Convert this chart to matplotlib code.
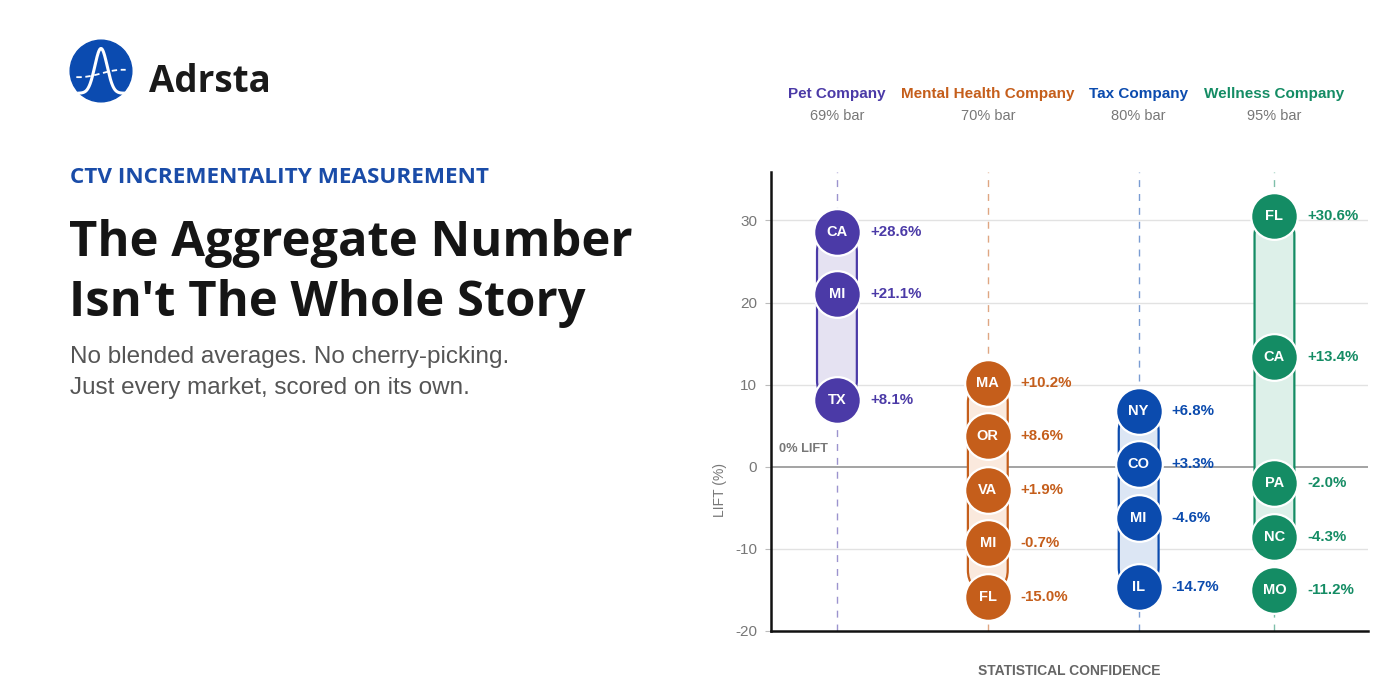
import numpy as np
import matplotlib
matplotlib.use("Agg")
import matplotlib.pyplot as plt
from matplotlib.patches import Circle, FancyBboxPatch

# data
companies = ["Pet Company", "Mental Health Company", "Tax Company", "Wellness Company"]
bar_labels = ["69% bar", "70% bar", "80% bar", "95% bar"]
col_x = [0, 1, 2, 2.9]

pet_states = ["CA", "MI", "TX"]
pet_lift = [28.6, 21.1, 8.1]
mental_states = ["MA", "OR", "VA", "MI", "FL"]
mental_lift = [10.2, 8.6, 1.9, -0.7, -15.0]
tax_states = ["NY", "CO", "MI", "IL"]
tax_lift = [6.8, 3.3, -4.6, -14.7]
well_states = ["FL", "CA", "PA", "NC", "MO"]
well_lift = [30.6, 13.4, -2.0, -4.3, -11.2]

states = [pet_states, mental_states, tax_states, well_states]
lifts = [pet_lift, mental_lift, tax_lift, well_lift]

colors = ["#4B3AA7", "#C55E1B", "#0B4BAE", "#148C64"]
fills = ["#E5E2F2", "#FAE9DD", "#DCE6F4", "#DDF0E9"]

W, H = 1400, 700
fig = plt.figure(figsize=(14, 7), dpi=100)
fig.patch.set_facecolor("white")

def fy(py):
    return 1 - py / H

def fx(px):
    return px / W

# ---- left side: logo + headline
lax = fig.add_axes([fx(68), fy(104), fx(66), 66 / H])
lax.set_xlim(-1.07, 1.07)
lax.set_ylim(-1.07, 1.07)
lax.set_aspect("equal")
lax.axis("off")
lax.add_patch(Circle((0, 0), 1, color="#0B4BB0"))
t = np.linspace(-0.72, 0.85, 200)
lax.plot(t, -0.72 + 1.45 * np.exp(-t**2 / (2 * 0.2**2)), color="white", lw=2.2)
t2 = np.linspace(-0.8, 0.8, 100)
lax.plot(t2, -0.08 + 0.12 * np.sin(t2 * 2.2), color="white", lw=1.3, ls=(0, (3, 2)))

fig.text(fx(149), fy(92), "Adrsta", fontsize=26.5, fontweight="bold", family="Open Sans",
         color="#1a1a1a", va="baseline")
fig.text(fx(70), fy(183), "CTV INCREMENTALITY MEASUREMENT", fontsize=16.2, fontweight="bold",
         family="Open Sans", color="#1A4CA8", va="baseline")
fig.text(fx(69), fy(256), "The Aggregate Number", fontsize=35.2, fontweight="bold",
         family="Open Sans", color="#151515", va="baseline")
fig.text(fx(69), fy(316), "Isn't The Whole Story", fontsize=35.2, fontweight="bold",
         family="Open Sans", color="#151515", va="baseline")
fig.text(fx(70), fy(363), "No blended averages. No cherry-picking.", fontsize=17.5,
         family="Liberation Sans", color="#555555", va="baseline")
fig.text(fx(70), fy(394), "Just every market, scored on its own.", fontsize=17.5,
         family="Liberation Sans", color="#555555", va="baseline")

# ---- chart
ax = fig.add_axes([fx(771), fy(631), fx(597), (631 - 172) / H])
ax.set_xlim(-0.437, 3.52)
ax.set_ylim(-20, 35.9)

for v in [30, 20, 10, -10]:
    ax.axhline(v, color="#e2e2e2", lw=1, zorder=0)
ax.axhline(0, color="#8a8a8a", lw=1.1, zorder=1)

gap = 6.5
rad_x = 0.132
for i in range(4):
    x = col_x[i]
    c = colors[i]
    ax.axvline(x, color=c, alpha=0.55, lw=1, ls=(0, (5, 5)), zorder=1)
    vals = lifts[i]
    lo, hi = min(vals), max(vals)
    band = FancyBboxPatch((x - rad_x, lo), 2 * rad_x, hi - lo,
                          boxstyle="round,pad=0,rounding_size=%f" % rad_x,
                          mutation_aspect=18.4, facecolor=fills[i], edgecolor=c,
                          lw=1.6, zorder=2)
    ax.add_patch(band)
    # push circles down so they do not overlap
    order = np.argsort(vals)[::-1]
    pos = {}
    prev = None
    for k in order:
        y = vals[k] if prev is None else min(vals[k], prev - gap)
        pos[k] = y
        prev = y
    for k in range(len(vals)):
        y = pos[k]
        ax.scatter([x], [y], s=1130, color=c, edgecolors="white", linewidths=1.6, zorder=4)
        ax.text(x, y, states[i][k], color="white", fontsize=10.5, fontweight="bold",
                ha="center", va="center", family="Liberation Sans", zorder=5)
        ax.text(x + 0.219, y, "%+.1f%%" % vals[k], color=c, fontsize=10.8,
                fontweight="bold", ha="left", va="center", family="Liberation Sans", zorder=5)
    fig.text(ax.transData.transform((x, 0))[0] / W, fy(94), companies[i], color=c,
             fontsize=11, fontweight="bold", ha="center", va="center", family="Liberation Sans")
    fig.text(ax.transData.transform((x, 0))[0] / W, fy(116), bar_labels[i], color="#777777",
             fontsize=10.5, ha="center", va="center", family="Liberation Sans")

ax.text(-0.385, 2.2, "0% LIFT", color="#777777", fontsize=9.2, fontweight="bold",
        ha="left", va="center", family="Liberation Sans")

ax.set_yticks([30, 20, 10, 0, -10, -20])
ax.set_yticklabels(["30", "20", "10", "0", "-10", "-20"], family="Liberation Sans")
ax.set_xticks([])
ax.tick_params(axis="y", length=4, color="#bbbbbb", labelcolor="#777777", labelsize=11, pad=6)
for s in ["top", "right"]:
    ax.spines[s].set_visible(False)
ax.spines["left"].set_linewidth(1.8)
ax.spines["bottom"].set_linewidth(1.8)
ax.spines["left"].set_color("#111111")
ax.spines["bottom"].set_color("#111111")
ax.set_ylabel("LIFT (%)", color="#777777", fontsize=10, family="Liberation Sans")
ax.yaxis.set_label_coords(-0.074, 0.307)
ax.set_xlabel("STATISTICAL CONFIDENCE", color="#666666", fontsize=10, fontweight="bold",
              family="Liberation Sans", labelpad=24)

fig.savefig("out.png", dpi=100, facecolor="white")
